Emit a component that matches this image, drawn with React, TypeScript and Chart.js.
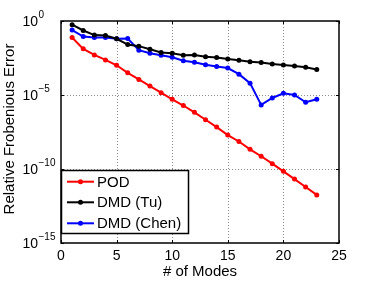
import React, { useEffect, useRef } from "react";
import { Chart, registerables } from "chart.js";

Chart.register(...registerables);

const modes = [1,2,3,4,5,6,7,8,9,10,11,12,13,14,15,16,17,18,19,20,21,22,23];
const podLog = [-1.11,-1.88,-2.29,-2.63,-2.99,-3.5,-3.95,-4.4,-4.84,-5.29,-5.71,-6.17,-6.67,-7.17,-7.71,-8.14,-8.67,-9.14,-9.64,-10.16,-10.68,-11.22,-11.75];
const tuLog = [-0.25,-0.64,-0.95,-0.98,-1.2,-1.59,-1.7,-1.91,-2.13,-2.18,-2.31,-2.29,-2.41,-2.47,-2.56,-2.65,-2.75,-2.81,-2.9,-2.97,-3.04,-3.13,-3.27];
const chenLog = [-0.61,-1.05,-1.11,-1.11,-1.2,-1.18,-1.97,-2.18,-2.31,-2.45,-2.68,-2.79,-2.95,-3.07,-3.18,-3.59,-4.2,-5.67,-5.2,-4.88,-5.0,-5.49,-5.29];
const seriesLabels = ["POD", "DMD (Tu)", "DMD (Chen)"];
const seriesColors = ["#ff0000", "#000000", "#0000ff"];
const yTickExponents = [0, -5, -10, -15];
const xTicks = [0, 5, 10, 15, 20, 25];
const xTitle = "# of Modes";
const yTitle = "Relative Frobenious Error";

const FONT = "Liberation Sans, Arial, Helvetica, sans-serif";

const gridPlugin = {
  id: "dottedGrid",
  beforeDatasetsDraw(chart: any) {
    const { ctx, chartArea: a, scales } = chart;
    const ys = scales.y;
    const xs = scales.x;
    ctx.save();
    ctx.strokeStyle = "#8c8c8c";
    ctx.lineWidth = 1;
    ctx.setLineDash([1, 2]);
    ctx.beginPath();
    for (const v of xTicks.slice(1, -1)) {
      const px = Math.round(xs.getPixelForValue(v)) + 0.5;
      ctx.moveTo(px, a.top); ctx.lineTo(px, a.bottom);
    }
    for (const e of yTickExponents.slice(1, -1)) {
      const py = Math.round(ys.getPixelForValue(Math.pow(10, e))) + 0.5;
      ctx.moveTo(a.left, py); ctx.lineTo(a.right, py);
    }
    ctx.stroke();
    ctx.restore();
  },
};

const overlay = {
  id: "overlay",
  afterDraw(chart: any) {
    const { ctx, chartArea: a, scales } = chart;
    const ys = scales.y;
    const xs = scales.x;
    ctx.save();
    ctx.setLineDash([]);
    ctx.strokeStyle = "#000";
    ctx.lineWidth = 1;
    ctx.beginPath();
    for (const v of xTicks) {
      const px = Math.round(xs.getPixelForValue(v)) + 0.5;
      ctx.moveTo(px, a.bottom); ctx.lineTo(px, a.bottom - 3);
      ctx.moveTo(px, a.top); ctx.lineTo(px, a.top + 3);
    }
    for (const e of yTickExponents) {
      const py = Math.round(ys.getPixelForValue(Math.pow(10, e))) + 0.5;
      ctx.moveTo(a.left, py); ctx.lineTo(a.left + 3, py);
      ctx.moveTo(a.right, py); ctx.lineTo(a.right - 3, py);
    }
    ctx.stroke();
    ctx.lineWidth = 1.5;
    ctx.strokeRect(a.left, a.top, a.right - a.left, a.bottom - a.top);
    ctx.fillStyle = "#000";
    ctx.textBaseline = "middle";
    for (const e of yTickExponents) {
      const py = ys.getPixelForValue(Math.pow(10, e));
      ctx.font = `14px ${FONT}`;
      ctx.textAlign = "right";
      ctx.fillText("10", 38, py + 1.5);
      ctx.font = `10px ${FONT}`;
      ctx.textAlign = "left";
      const exp = e === 0 ? "0" : "\u2212" + String(-e);
      ctx.fillText(exp, 38.5, py - 6);
    }
    ctx.font = `14px ${FONT}`;
    ctx.textAlign = "center";
    for (const v of xTicks) {
      ctx.fillText(String(v), xs.getPixelForValue(v), 256);
    }
    ctx.font = `15px ${FONT}`;
    ctx.fillText(xTitle, (a.left + a.right) / 2, 272);
    ctx.save();
    ctx.translate(10, 129);
    ctx.rotate(-Math.PI / 2);
    ctx.fillText(yTitle, 0, 0);
    ctx.restore();
    const lx = 61.5, ly = 170.5, lw = 127, lh = 63;
    ctx.fillStyle = "#fff";
    ctx.fillRect(lx, ly, lw, lh);
    ctx.lineWidth = 1.5;
    ctx.strokeStyle = "#000";
    ctx.strokeRect(lx, ly, lw, lh);
    const rows = [181.7, 202.3, 223.3];
    chart.data.datasets.forEach((ds: any, i: number) => {
      const ry = rows[i];
      ctx.strokeStyle = ds.borderColor;
      ctx.lineWidth = 2;
      ctx.beginPath();
      ctx.moveTo(67, ry); ctx.lineTo(94, ry);
      ctx.stroke();
      ctx.fillStyle = ds.borderColor;
      ctx.beginPath();
      ctx.arc(80.5, ry, 2.5, 0, Math.PI * 2);
      ctx.fill();
      ctx.fillStyle = "#000";
      ctx.font = `15px ${FONT}`;
      ctx.textAlign = "left";
      ctx.textBaseline = "middle";
      ctx.fillText(ds.label, 97, ry + 1);
    });
    ctx.restore();
  },
};

export default function App() {
  const ref = useRef<HTMLCanvasElement>(null);
  useEffect(() => {
    const toPts = (arr: number[]) => arr.map((l, i) => ({ x: modes[i], y: Math.pow(10, l) }));
    const data = [podLog, tuLog, chenLog];
    const chart = new Chart(ref.current!, {
      type: "line",
      data: {
        datasets: data.map((d, i) => ({
          label: seriesLabels[i],
          data: toPts(d),
          borderColor: seriesColors[i],
          backgroundColor: seriesColors[i],
          borderWidth: 2,
          pointRadius: 2.5,
          pointBorderWidth: 0,
          tension: 0,
        })),
      },
      options: {
        animation: false,
        responsive: false,
        devicePixelRatio: 1,
        layout: { padding: { left: 61, top: 21, right: 35, bottom: 38 } },
        plugins: { legend: { display: false }, tooltip: { enabled: false } },
        scales: {
          x: {
            type: "linear",
            display: false,
            min: 0,
            max: 25,
          },
          y: {
            type: "logarithmic",
            display: false,
            min: 1e-15,
            max: 1,
          },
        },
      },
      plugins: [gridPlugin, overlay],
    });
    return () => chart.destroy();
  }, []);
  return (
    <div style={{ position: "fixed", left: 0, top: 0, width: 374, height: 281, background: "#fff" }}>
      <canvas ref={ref} width={374} height={281} style={{ width: 374, height: 281 }} />
    </div>
  );
}
